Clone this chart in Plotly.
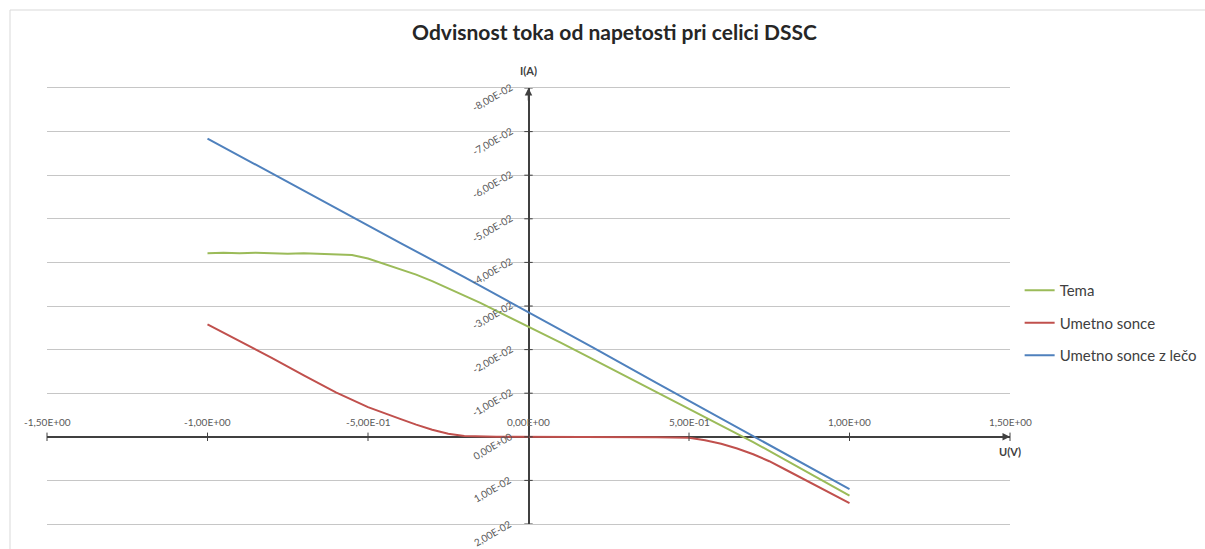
import plotly.graph_objects as go

# ---- data (I in A, U in V); the current axis is reversed as in the original
u_tema = [-1.00, -0.95, -0.90, -0.85, -0.80, -0.75, -0.70, -0.65, -0.60, -0.55,
          -0.50, -0.45, -0.40, -0.35, -0.30, -0.25, -0.20, -0.15, -0.10, -0.05,
          0.00, 0.10, 0.20, 0.30, 0.40, 0.50, 0.60, 0.70, 0.80, 0.90, 1.00]
i_tema = [-0.0421, -0.0422, -0.0421, -0.0422, -0.0421, -0.0420, -0.0421, -0.0420, -0.0419, -0.0417,
          -0.0409, -0.0397, -0.0385, -0.0372, -0.0357, -0.0341, -0.0324, -0.0307, -0.0289, -0.0271,
          -0.0253, -0.0216, -0.0178, -0.0140, -0.0102, -0.0065, -0.0027, 0.0012, 0.0053, 0.0094, 0.0135]

u_umetno = [-1.00, -0.90, -0.80, -0.70, -0.60, -0.50, -0.45, -0.40, -0.35, -0.30,
            -0.25, -0.20, -0.10, 0.00, 0.10, 0.20, 0.30, 0.40, 0.50, 0.55,
            0.60, 0.65, 0.70, 0.75, 0.80, 0.85, 0.90, 0.95, 1.00]
i_umetno = [-0.0258, -0.0220, -0.0181, -0.0141, -0.0102, -0.0068, -0.0054, -0.0041, -0.0028, -0.0016,
            -0.0007, -0.0002, 0.0000, 0.0000, 0.0001, 0.0001, 0.0001, 0.0001, 0.0002, 0.0008,
            0.0016, 0.0027, 0.0040, 0.0056, 0.0075, 0.0094, 0.0113, 0.0133, 0.0152]

u_leca = [-1.00, -0.80, -0.60, -0.40, -0.20, 0.00, 0.20, 0.40, 0.60, 0.80, 1.00]
i_leca = [-0.0684, -0.0604, -0.0525, -0.0445, -0.0366, -0.0286, -0.0205, -0.0123, -0.0042, 0.0039, 0.0120]

series_names = ["Tema", "Umetno sonce", "Umetno sonce z lečo"]
series_colors = ["#9BBB59", "#C0504D", "#4F81BD"]

x_ticks = [-1.5, -1.0, -0.5, 0.0, 0.5, 1.0, 1.5]
y_ticks = [-0.08, -0.07, -0.06, -0.05, -0.04, -0.03, -0.02, -0.01, 0.0, 0.01, 0.02]

title_text = "Odvisnost toka od napetosti pri celici DSSC"
x_title = "U(V)"
y_title = "I(A)"


def excel_fmt(v):
    if abs(v) < 1e-12:
        v = 0.0
    return f"{v:.2E}".replace(".", ",")


FONT = "Lato, 'Open Sans', sans-serif"
AXIS_COL = "#404040"
LABEL_COL = "#595959"
GRID_COL = "#C6C6C6"

fig = go.Figure()

for u, i, name, col in zip([u_tema, u_umetno, u_leca], [i_tema, i_umetno, i_leca],
                           series_names, series_colors):
    fig.add_trace(go.Scatter(x=u, y=i, mode="lines", name=name,
                             line=dict(color=col, width=2), legendgroup=name))

# tick marks on the crossing axes
fig.add_trace(go.Scatter(x=x_ticks, y=[0] * len(x_ticks), mode="markers",
                         marker=dict(symbol="line-ns-open", size=6, color=AXIS_COL,
                                     line=dict(color=AXIS_COL, width=1)),
                         showlegend=False, hoverinfo="skip", cliponaxis=False))
fig.add_trace(go.Scatter(x=[0] * len(y_ticks), y=y_ticks, mode="markers",
                         marker=dict(symbol="line-ew-open", size=6, color=AXIS_COL,
                                     line=dict(color=AXIS_COL, width=1)),
                         showlegend=False, hoverinfo="skip", cliponaxis=False))

annotations = []
for xv in x_ticks:
    annotations.append(dict(x=xv, y=0, xref="x", yref="y", text=excel_fmt(xv),
                            showarrow=False, yshift=15,
                            font=dict(size=10, color=LABEL_COL, family=FONT)))
for yv in y_ticks:
    annotations.append(dict(x=0, y=yv, xref="x", yref="y", text=excel_fmt(yv),
                            showarrow=False, xshift=-36, yshift=-9, textangle=-30,
                            font=dict(size=10, color=LABEL_COL, family=FONT)))

# axis titles
annotations.append(dict(x=0, y=y_ticks[0], xref="x", yref="y", text=f"<b>{y_title}</b>",
                        showarrow=False, yshift=18,
                        font=dict(size=11, color=AXIS_COL, family=FONT)))
annotations.append(dict(x=x_ticks[-1], y=0, xref="x", yref="y", text=f"<b>{x_title}</b>",
                        showarrow=False, yshift=-15,
                        font=dict(size=11, color=AXIS_COL, family=FONT)))
# arrow heads
annotations.append(dict(x=0, y=y_ticks[0], xref="x", yref="y", text="",
                        showarrow=True, ax=0, ay=14, arrowhead=2, arrowsize=1,
                        arrowwidth=1.5, arrowcolor=AXIS_COL, standoff=0))
annotations.append(dict(x=x_ticks[-1], y=0, xref="x", yref="y", text="",
                        showarrow=True, ax=-14, ay=0, arrowhead=2, arrowsize=1,
                        arrowwidth=1.5, arrowcolor=AXIS_COL, standoff=0))

fig.update_layout(
    width=1205, height=549,
    margin=dict(l=47, r=195, t=88, b=25, autoexpand=False),
    paper_bgcolor="white", plot_bgcolor="white",
    title=dict(text=f"<b>{title_text}</b>", x=0.51, xref="container", xanchor="center",
               y=1 - 33 / 549, yref="container", yanchor="middle",
               font=dict(size=21, color="#262626", family=FONT)),
    xaxis=dict(range=[x_ticks[0], x_ticks[-1]], showgrid=False, showticklabels=False,
               ticks="", zeroline=True, zerolinecolor=AXIS_COL, zerolinewidth=1.5,
               showline=True, mirror=True, linecolor=GRID_COL, linewidth=1.2),
    yaxis=dict(range=[y_ticks[-1], y_ticks[0]], showgrid=True, gridcolor=GRID_COL,
               gridwidth=1.2, tick0=0, dtick=0.01, showticklabels=False, ticks="",
               zeroline=True, zerolinecolor=AXIS_COL, zerolinewidth=1.5, showline=False),
    legend=dict(x=1.010, y=0.461, xanchor="left", yanchor="middle",
                font=dict(size=15, color=AXIS_COL, family=FONT),
                tracegroupgap=10, bgcolor="rgba(0,0,0,0)"),
    annotations=annotations,
    shapes=[dict(type="rect", xref="paper", yref="paper",
                 x0=(10 - 47) / 963, x1=2, y0=-1, y1=1 + (88 - 10) / 436,
                 line=dict(color="#D9D9D9", width=1), layer="below")],
    showlegend=True,
)

fig.write_html("out.html", post_script="document.body.style.margin='0';",
               config={"displayModeBar": False})
